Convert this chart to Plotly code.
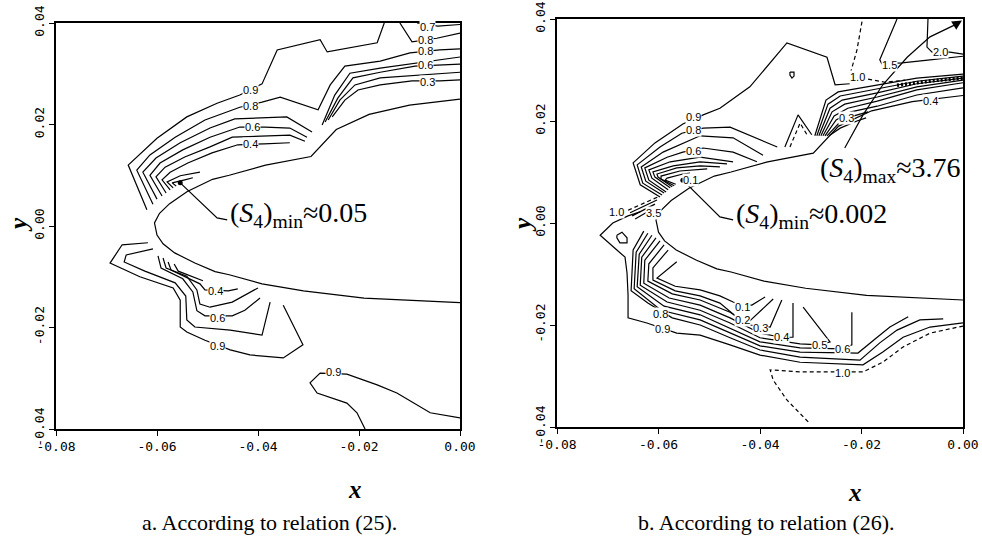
import plotly.graph_objects as go

K = 1e-3  # all contour coordinates below are given in thousandths of an axis unit

# ---------------- axes ----------------
X_TICKS = [-0.08, -0.06, -0.04, -0.02, 0.0]
X_TICK_TEXT = ["-0.08", "-0.06", "-0.04", "-0.02", "0.00"]
Y_TICKS = [-0.04, -0.02, 0.0, 0.02, 0.04]
Y_TICK_TEXT = ["-0.04", "-0.02", "0.00", "0.02", "0.04"]

# ---------------- body contour (both panels) ----------------
BODY_X = [0.0, -10.0, -18.0, -24.5, -29.5, -38.5, -45.7, -49.0, -54.0, -57.5, -59.5, -60.5, -60.0,
          -58.8, -56.5, -52.5, -48.5, -45.7, -39.2, -31.0, -19.0, 0.0]
BODY_Y = [25.0, 23.8, 22.0, 19.0, 13.7, 12.0, 10.0, 9.2, 6.8, 4.4, 2.5, 0.6, -1.8,
          -3.5, -5.3, -7.3, -9.0, -9.6, -11.4, -12.8, -14.2, -15.1]

# ---------------- panel a: relation (25) ----------------
LA1_X = [-62.0, -65.7, -60.0, -54.1, -48.1, -43.6, -39.2, -36.2, -27.7, -26.3, -16.4, -15.0]
LA1_Y = [3.2, 12.0, 17.3, 21.5, 24.2, 25.8, 28.0, 34.7, 36.7, 34.3, 36.1, 40.0]
LA1B_X = [-11.9, -9.5, -4.6, 0.0]
LA1B_Y = [40.0, 36.3, 37.0, 38.0]
LA1C_X = [-8.5, -4.4, 0.0]
LA1C_Y = [40.0, 39.4, 39.7]
LA2_X = [-60.8, -64.0, -61.4, -56.4, -50.5, -43.6, -39.2, -35.6, -28.1, -25.7, -22.8, -15.8, -9.9, -4.0, 0.0]
LA2_Y = [4.3, 11.0, 14.0, 17.5, 20.9, 23.4, 24.4, 25.4, 22.9, 27.8, 31.5, 32.5, 34.1, 34.7, 34.9]
LA3_X = [-60.0, -62.8, -60.2, -55.4, -49.5, -44.6, -34.3, -29.3]
LA3_Y = [5.3, 10.6, 13.4, 16.4, 19.3, 21.1, 21.5, 18.5]
LA3B_X = [-27.3, -24.8, -21.8, -15.8, 0.0]
LA3B_Y = [19.9, 25.8, 30.1, 31.1, 33.3]
LA4_X = [-59.0, -61.4, -59.4, -54.9, -49.5, -43.6, -38.6, -33.7, -30.3]
LA4_Y = [5.9, 10.0, 12.4, 15.0, 17.5, 19.5, 19.5, 19.3, 17.5]
LA4B_X = [-26.7, -24.2, -21.2, -15.8, -8.9, -4.6, 0.0]
LA4B_Y = [20.5, 25.2, 29.2, 30.3, 31.5, 31.7, 31.9]
LA5_X = [-58.2, -60.2, -58.4, -54.5, -49.5, -45.1, -33.7, -30.7]
LA5_Y = [6.5, 9.7, 11.6, 13.6, 15.6, 17.5, 17.9, 16.7]
LA5B_X = [-26.1, -23.8, -20.8, -15.8, 0.0]
LA5B_Y = [20.9, 24.8, 27.8, 29.2, 30.3]
LA6_X = [-57.4, -59.0, -57.4, -53.9, -49.1, -44.0, -38.8, -33.7]
LA6_Y = [7.1, 9.1, 10.6, 12.4, 14.4, 16.0, 16.2, 16.4]
LA6B_X = [-25.3, -22.8, -20.2, -15.8, -9.5, -4.0, 0.0]
LA6B_Y = [21.5, 24.8, 26.8, 27.8, 28.6, 28.6, 28.8]
LA7_X = [-56.8, -58.0, -55.4, -51.5]
LA7_Y = [7.5, 8.7, 9.9, 10.6]
LA8_X = [-56.2, -57.0, -54.5, -52.9]
LA8_Y = [7.9, 8.5, 9.1, 9.5]
LL1_X = [-61.8, -66.9, -69.3, -63.4, -56.8, -55.4, -55.4, -54.1, -50.5, -45.5, -41.6, -35.0, -31.1, -35.0]
LL1_Y = [-3.3, -3.7, -7.3, -10.0, -12.2, -14.6, -19.9, -20.9, -22.5, -24.4, -25.4, -26.0, -23.4, -15.6]
LL2_X = [-60.8, -66.1, -66.5, -62.4, -56.4, -54.3, -54.1, -52.5, -45.5, -39.2, -37.6]
LL2_Y = [-4.5, -5.7, -7.1, -8.9, -11.2, -13.8, -18.5, -19.9, -20.5, -21.5, -15.0]
LL3_X = [-59.8, -59.2, -54.9, -52.9, -52.1, -50.5, -45.1, -42.6, -39.6]
LL3_Y = [-5.9, -8.3, -10.4, -13.0, -16.7, -17.7, -17.7, -16.6, -14.2]
LL4_X = [-58.8, -58.2, -54.1, -52.1, -51.5, -49.5, -45.1, -41.6, -40.0]
LL4_Y = [-6.3, -8.3, -9.9, -12.6, -15.4, -16.0, -15.0, -13.0, -12.2]
LL5_X = [-57.8, -57.2, -51.5, -50.5, -45.9, -44.0]
LL5_Y = [-7.1, -8.7, -11.4, -12.6, -12.8, -12.4]
LL6_X = [-56.6, -55.8, -50.9]
LL6_Y = [-7.5, -8.9, -10.8]
LL9_X = [0.0, -5.9, -12.5, -16.4, -22.4, -27.7, -29.7, -28.3, -22.4, -20.4, -18.8]
LL9_Y = [-37.8, -36.8, -32.9, -31.3, -29.2, -29.0, -30.9, -32.9, -34.9, -36.8, -40.0]
PTR_A_X = [-55.4, -48.1, -46.1]
PTR_A_Y = [8.5, 1.6, 1.2]

LAB_A_TEXT = ["0.9", "0.8", "0.6", "0.4", "0.7", "0.8", "0.8", "0.6", "0.3", "0.4", "0.6", "0.9", "0.9"]
LAB_A_X = [-41.4, -41.4, -41.0, -41.4, -6.5, -6.9, -6.9, -6.9, -6.5, -48.5, -48.1, -48.1, -25.1]
LAB_A_Y = [26.8, 23.6, 19.5, 16.2, 39.2, 36.7, 34.4, 31.7, 28.4, -12.8, -18.1, -23.6, -28.8]

# ---------------- panel b: relation (26) ----------------
RU9_X = [-59.7, -63.6, -65.0, -60.7, -55.2, -51.2, -47.9, -42.0, -34.7, -26.8, -25.2, -22.3]
RU9_Y = [5.1, 7.5, 11.8, 15.7, 19.4, 21.2, 22.5, 26.7, 35.3, 32.5, 27.1, 27.3]
RU8_X = [-59.3, -63.1, -64.2, -59.7, -55.4, -51.2, -45.9, -36.6]
RU8_Y = [5.5, 7.8, 11.4, 14.9, 17.6, 18.6, 18.8, 14.9]
RU7_X = [-58.9, -62.5, -63.4, -59.1, -51.8, -45.3, -39.4]
RU7_Y = [5.9, 8.2, 11.0, 13.9, 17.1, 16.7, 13.3]
RU6_X = [-58.5, -61.9, -62.7, -58.3, -55.2, -51.2, -45.3, -40.6]
RU6_Y = [6.1, 8.4, 10.8, 12.9, 13.9, 14.7, 13.9, 12.0]
RU5_X = [-58.1, -61.3, -61.9, -57.7, -51.8, -45.3]
RU5_Y = [6.5, 8.8, 10.4, 12.0, 12.9, 12.0]
RU4_X = [-57.7, -60.7, -61.1, -57.1, -51.8, -46.5]
RU4_Y = [6.9, 9.0, 10.0, 11.2, 12.0, 11.6]
RU3_X = [-57.3, -60.1, -60.3, -56.4, -51.8, -47.9]
RU3_Y = [7.1, 9.0, 9.6, 10.8, 11.2, 11.0]
RU2_X = [-56.9, -59.5, -59.5, -55.8, -50.4]
RU2_Y = [7.3, 8.6, 9.2, 10.2, 10.6]
RU1_X = [-56.6, -58.7, -58.3, -55.2, -53.8]
RU1_Y = [7.6, 8.4, 8.8, 9.6, 9.8]

B0_X = [-29.2, -27.0, -24.6, -16.9, -9.1, 0.0]
B0_Y = [17.1, 24.1, 25.7, 27.1, 28.4, 29.2]
B1_X = [-28.8, -26.6, -24.2, -16.9, -9.1, 0.0]
B1_Y = [17.1, 23.3, 24.9, 26.3, 27.8, 28.8]
B2_X = [-28.4, -26.2, -23.8, -16.9, -9.1, 0.0]
B2_Y = [17.1, 22.5, 24.1, 25.5, 27.3, 28.4]
B3_X = [-28.0, -25.8, -23.3, -16.9, -9.1, 0.0]
B3_Y = [17.1, 21.8, 23.3, 24.7, 26.7, 28.0]
B4_X = [-27.6, -25.4, -22.7, -16.9, -9.1, 0.0]
B4_Y = [17.1, 21.0, 22.5, 23.9, 26.1, 27.5]
B5_X = [-27.2, -25.0, -22.1, -16.9, -9.1, 0.0]
B5_Y = [17.1, 20.2, 21.8, 22.9, 25.1, 26.5]
B6_X = [-26.8, -24.6, -21.5, -18.7]
B6_Y = [17.1, 19.4, 21.0, 21.8]
B7_X = [-26.4, -24.2, -20.9, -19.1]
B7_Y = [17.1, 18.6, 20.0, 20.6]
BAND_X = [-13.0, -6.0, 0.0]
BAND_Y = [27.0, 27.9, 28.4]

R10_TOP_X = [-19.9, -20.9, -22.3]
R10_TOP_Y = [39.5, 33.9, 29.0]
R10_MID_X = [-18.7, -15.4, -11.4]
R10_MID_Y = [28.2, 27.6, 28.0]
R15_X = [-13.0, -16.4, -16.0, -12.0, -6.5, 0.0]
R15_Y = [40.0, 32.0, 31.2, 31.4, 32.0, 32.7]
R20_X = [-6.9, -7.1, -6.1, -2.6, 0.0]
R20_Y = [40.0, 34.5, 33.5, 33.5, 33.1]
ARROW_X = [-23.3, -19.7, -15.8, -11.0, -6.5, -1.5]
ARROW_Y = [14.7, 21.2, 27.1, 32.5, 36.5, 38.9]
TRI_X = [-35.1, -32.5, -29.8]
TRI_Y = [14.9, 21.2, 17.3]
TRI_D_X = [-34.1, -32.1, -30.5]
TRI_D_Y = [14.9, 19.6, 16.9]
LOOP_Q_X = [-34.1, -33.3, -33.3, -33.7, -34.1, -34.1]
LOOP_Q_Y = [29.6, 29.6, 28.8, 28.4, 29.0, 29.6]

K0_X = [-56.4, -60.3, -56.7, -51.8, -47.9, -45.3, -43.5, -41.6, -39.0]
K0_Y = [-7.6, -10.8, -12.4, -13.1, -14.3, -15.5, -16.1, -16.1, -14.5]
K1_X = [-58.1, -61.1, -61.1, -56.7, -51.8, -47.9, -44.9, -42.0, -37.4]
K1_Y = [-5.3, -8.8, -11.2, -13.3, -14.3, -15.7, -18.2, -19.2, -14.9]
K2_X = [-58.9, -61.9, -62.1, -57.3, -51.8, -45.9, -42.0, -38.0, -35.7]
K2_Y = [-4.3, -8.0, -11.4, -13.9, -15.1, -17.5, -20.0, -20.4, -15.1]
K3_X = [-59.7, -62.7, -62.9, -57.9, -51.8, -45.9, -40.0, -35.7, -33.5, -33.5]
K3_Y = [-3.5, -7.3, -11.8, -14.7, -16.1, -18.6, -21.6, -22.4, -22.4, -15.7]
K4_X = [-60.5, -63.3, -63.6, -58.3, -51.8, -45.9, -40.0, -32.1, -28.2, -26.2, -31.5]
K4_Y = [-2.9, -6.7, -12.2, -15.5, -17.1, -19.6, -22.5, -23.7, -23.9, -23.3, -16.5]
K5_X = [-61.3, -63.8, -64.2, -58.9, -51.8, -45.9, -40.0, -32.1, -23.8, -21.9, -21.9]
K5_Y = [-2.4, -6.1, -12.5, -16.3, -18.0, -20.6, -23.3, -24.5, -24.7, -23.9, -17.5]
K6_X = [-62.1, -64.4, -64.8, -59.5, -51.8, -45.9, -40.0, -32.1, -20.7, -16.9, -14.4, -10.8]
K6_Y = [-2.0, -5.7, -12.9, -17.1, -19.0, -21.6, -24.1, -25.3, -25.5, -22.4, -20.4, -18.4]
K7_X = [-62.9, -65.0, -65.4, -62.1, -57.3, -51.8, -45.9, -40.0, -32.1, -20.3, -16.4, -13.0, -8.5, -3.9]
K7_Y = [-1.6, -5.3, -13.3, -15.7, -18.6, -20.0, -22.5, -24.9, -26.3, -26.9, -23.5, -21.0, -19.0, -18.8]
K8_X = [-63.6, -66.0, -69.0, -71.5, -68.2, -66.6, -66.2, -66.0, -66.0, -62.3, -56.4, -51.8, -45.9,
        -40.0, -32.1, -19.7, -15.8, -11.8, -6.5, 0.0]
K8_Y = [2.2, 1.4, 0.0, -2.4, -5.3, -6.7, -9.8, -14.1, -18.6, -19.6, -21.6, -22.0, -23.9,
        -25.9, -27.3, -27.8, -25.3, -22.4, -20.4, -19.6]
R10_LOW_X = [-30.5, -34.7, -37.4, -38.0, -32.1, -23.6, -19.7, -15.8, -11.8, -6.5, 0.0]
R10_LOW_Y = [-39.0, -34.7, -30.8, -28.8, -29.2, -29.2, -29.2, -27.3, -24.3, -21.6, -20.2]
LOOP_D_X = [-68.2, -67.2, -66.2, -66.2, -67.6, -68.2, -68.2]
LOOP_D_Y = [-2.4, -1.8, -2.9, -3.9, -3.9, -2.9, -2.4]
E1_X = [-66.0, -59.7]
E1_Y = [2.5, 5.3]
E2_X = [-65.6, -60.3]
E2_Y = [2.0, 4.5]
E3_X = [-65.2, -60.7]
E3_Y = [1.4, 3.7]
E4_X = [-64.6, -61.3]
E4_Y = [0.8, 2.7]
PTR_B_X = [-55.2, -47.9, -45.3]
PTR_B_Y = [8.4, 1.2, 0.6]

LAB_B_TEXT = ["0.9", "0.8", "0.6", "0.1", "1.0", "3.5", "0.3", "1.0", "1.5", "2.0", "0.4",
              "0.1", "0.2", "0.3", "0.4", "0.5", "0.6", "0.8", "0.9", "1.0"]
LAB_B_X = [-53.2, -53.2, -53.2, -53.6, -68.2, -61.0, -22.9, -20.7, -14.4, -4.5, -6.5,
           -43.5, -43.5, -40.0, -35.7, -28.2, -23.8, -59.7, -59.3, -23.8]
LAB_B_Y = [20.8, 18.2, 14.1, 8.5, 2.2, 1.9, 20.6, 28.6, 31.0, 33.5, 23.9,
           -16.5, -19.0, -20.6, -22.4, -23.9, -24.7, -17.8, -20.8, -29.4]

# ---------------- texts ----------------
ANN_A_MIN = "(<i>S</i><sub>4</sub>)<sub>min</sub>≈0.05"
ANN_B_MIN = "(<i>S</i><sub>4</sub>)<sub>min</sub>≈0.002"
ANN_B_MAX = "(<i>S</i><sub>4</sub>)<sub>max</sub>≈3.76"
CAPTION_A = "a. According to relation (25)."
CAPTION_B = "b. According to relation (26)."

SOLID_A = [(BODY_X, BODY_Y), (LA1_X, LA1_Y), (LA1B_X, LA1B_Y), (LA1C_X, LA1C_Y), (LA2_X, LA2_Y),
           (LA3_X, LA3_Y), (LA3B_X, LA3B_Y), (LA4_X, LA4_Y), (LA4B_X, LA4B_Y), (LA5_X, LA5_Y),
           (LA5B_X, LA5B_Y), (LA6_X, LA6_Y), (LA6B_X, LA6B_Y), (LA7_X, LA7_Y), (LA8_X, LA8_Y),
           (LL1_X, LL1_Y), (LL2_X, LL2_Y), (LL3_X, LL3_Y), (LL4_X, LL4_Y), (LL5_X, LL5_Y),
           (LL6_X, LL6_Y), (LL9_X, LL9_Y), (PTR_A_X, PTR_A_Y)]
SOLID_B = [(BODY_X, BODY_Y), (RU9_X, RU9_Y), (RU8_X, RU8_Y), (RU7_X, RU7_Y), (RU6_X, RU6_Y),
           (RU5_X, RU5_Y), (RU4_X, RU4_Y), (RU3_X, RU3_Y), (RU2_X, RU2_Y), (RU1_X, RU1_Y),
           (B0_X, B0_Y), (B1_X, B1_Y), (B2_X, B2_Y), (B3_X, B3_Y), (B4_X, B4_Y), (B5_X, B5_Y),
           (B6_X, B6_Y), (B7_X, B7_Y), (R15_X, R15_Y), (R20_X, R20_Y), (ARROW_X, ARROW_Y),
           (TRI_X, TRI_Y), (LOOP_Q_X, LOOP_Q_Y), (K0_X, K0_Y), (K1_X, K1_Y), (K2_X, K2_Y),
           (K3_X, K3_Y), (K4_X, K4_Y), (K5_X, K5_Y), (K6_X, K6_Y), (K7_X, K7_Y), (K8_X, K8_Y),
           (LOOP_D_X, LOOP_D_Y), (E2_X, E2_Y), (E3_X, E3_Y), (E4_X, E4_Y), (PTR_B_X, PTR_B_Y)]
DASHED_B = [(R10_TOP_X, R10_TOP_Y), (R10_MID_X, R10_MID_Y), (TRI_D_X, TRI_D_Y),
            (R10_LOW_X, R10_LOW_Y), (E1_X, E1_Y)]

fig = go.Figure()


def add_line(xs, ys, xa, ya, dash="solid", width=1.2):
    fig.add_trace(go.Scatter(
        x=[v * K for v in xs], y=[v * K for v in ys], mode="lines",
        line=dict(color="black", width=width, dash=dash),
        xaxis=xa, yaxis=ya, showlegend=False, hoverinfo="skip"))


for xs, ys in SOLID_A:
    add_line(xs, ys, "x", "y")
for xs, ys in SOLID_B:
    add_line(xs, ys, "x2", "y2")
for xs, ys in DASHED_B:
    add_line(xs, ys, "x2", "y2", dash="4px,3px")
add_line(BAND_X, BAND_Y, "x2", "y2", dash="2px,2px", width=3.5)

# pointer dots
fig.add_trace(go.Scatter(x=[PTR_A_X[0] * K], y=[PTR_A_Y[0] * K], mode="markers",
                         marker=dict(color="black", size=5), xaxis="x", yaxis="y",
                         showlegend=False, hoverinfo="skip"))
fig.add_trace(go.Scatter(x=[PTR_B_X[0] * K], y=[PTR_B_Y[0] * K], mode="markers",
                         marker=dict(color="black", size=5), xaxis="x2", yaxis="y2",
                         showlegend=False, hoverinfo="skip"))

lab_font = dict(family="Liberation Sans", size=11, color="black")
for t, x, y in zip(LAB_A_TEXT, LAB_A_X, LAB_A_Y):
    fig.add_annotation(x=x * K, y=y * K, xref="x", yref="y", text=t, showarrow=False,
                       xanchor="center", yanchor="middle",
                       font=lab_font, bgcolor="white", borderpad=0)
for t, x, y in zip(LAB_B_TEXT, LAB_B_X, LAB_B_Y):
    fig.add_annotation(x=x * K, y=y * K, xref="x2", yref="y2", text=t, showarrow=False,
                       xanchor="center", yanchor="middle",
                       font=lab_font, bgcolor="white", borderpad=0)

# arrow head of the (S4)max pointer
fig.add_annotation(x=-0.2 * K, y=39.7 * K, ax=ARROW_X[-1] * K, ay=ARROW_Y[-1] * K,
                   xref="x2", yref="y2", axref="x2", ayref="y2", text="", showarrow=True,
                   arrowhead=2, arrowsize=1.5, arrowwidth=1.3, arrowcolor="black")

big = dict(family="Liberation Serif", size=28, color="black")
fig.add_annotation(x=-45.9 * K, y=2.2 * K, xref="x", yref="y", text=ANN_A_MIN, showarrow=False,
                   xanchor="left", yanchor="middle", font=big)
fig.add_annotation(x=-45.1 * K, y=1.4 * K, xref="x2", yref="y2", text=ANN_B_MIN, showarrow=False,
                   xanchor="left", yanchor="middle", font=big)
fig.add_annotation(x=-28.6 * K, y=10.4 * K, xref="x2", yref="y2", text=ANN_B_MAX, showarrow=False,
                   xanchor="left", yanchor="middle", font=big)

title_font = dict(family="Liberation Serif", size=25, color="black")
for xp, yp in [(18, 225), (522, 225)]:
    fig.add_annotation(x=xp / 982, y=1 - yp / 540, xref="paper", yref="paper",
                       xanchor="center", yanchor="middle",
                       text="<b><i>y</i></b>", textangle=-90, showarrow=False, font=title_font)
for xp, yp in [(355, 489), (855, 492)]:
    fig.add_annotation(x=xp / 982, y=1 - yp / 540, xref="paper", yref="paper",
                       xanchor="center", yanchor="middle",
                       text="<b><i>x</i></b>", showarrow=False, font=title_font)
cap_font = dict(family="Liberation Serif", size=22, color="black")
fig.add_annotation(x=269 / 982, y=1 - 522 / 540, xref="paper", yref="paper", text=CAPTION_A,
                   xanchor="center", yanchor="middle", showarrow=False, font=cap_font)
fig.add_annotation(x=766 / 982, y=1 - 522 / 540, xref="paper", yref="paper", text=CAPTION_B,
                   xanchor="center", yanchor="middle", showarrow=False, font=cap_font)

tick_font = dict(family="DejaVu Sans Mono", size=13, color="black")
xcommon = dict(range=[-0.08, 0.0], tickvals=X_TICKS, ticktext=X_TICK_TEXT, showgrid=False,
               zeroline=False, showline=True, linecolor="black", linewidth=1.5, mirror=True,
               ticks="outside", ticklen=5, tickwidth=1.3, tickcolor="black", tickfont=tick_font,
               automargin=False)
ycommon = dict(range=[-0.04, 0.04], tickvals=Y_TICKS, ticktext=Y_TICK_TEXT, showgrid=False,
               zeroline=False, showline=True, linecolor="black", linewidth=1.5, mirror=True,
               ticks="outside", ticklen=5, tickwidth=1.3, tickcolor="black", tickfont=tick_font,
               tickangle=-90, automargin=False)

fig.update_layout(
    width=982, height=540, autosize=False,
    margin=dict(l=0, r=0, t=0, b=0, pad=0, autoexpand=False),
    paper_bgcolor="white", plot_bgcolor="white",
    xaxis=dict(domain=[56 / 982, 460 / 982], anchor="y", **xcommon),
    yaxis=dict(domain=[(540 - 429) / 540, (540 - 23) / 540], anchor="x", **ycommon),
    xaxis2=dict(domain=[557 / 982, 963 / 982], anchor="y2", **xcommon),
    yaxis2=dict(domain=[(540 - 427) / 540, (540 - 19) / 540], anchor="x2", **ycommon),
)

fig.write_html("out.html")
